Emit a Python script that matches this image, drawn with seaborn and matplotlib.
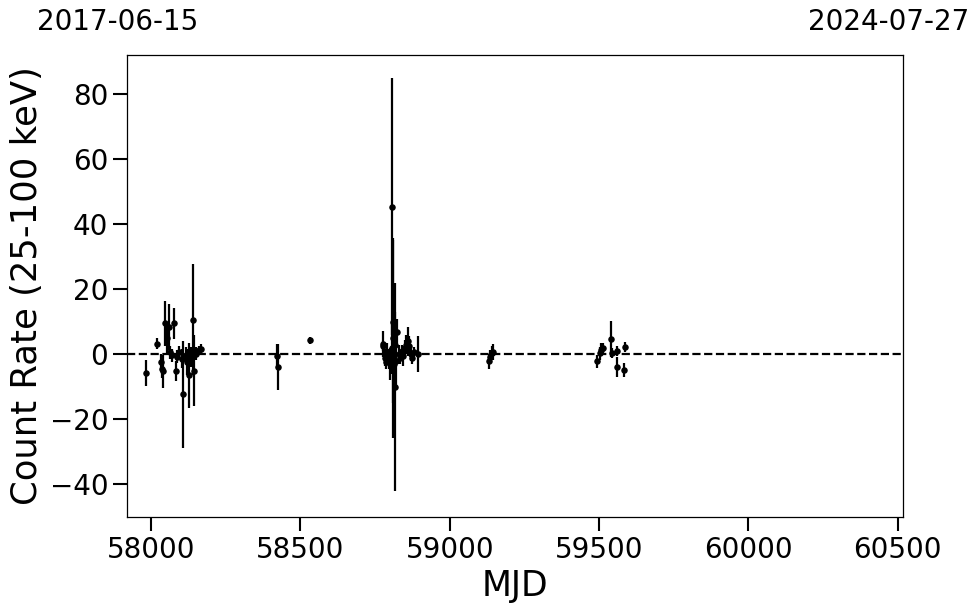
import numpy as np
import pandas as pd
import seaborn as sns
import matplotlib
matplotlib.use("Agg")
import matplotlib.pyplot as plt

# light curve points (MJD, count rate, 1-sigma error)
mjd = [57984, 58021, 58032, 58036, 58040, 58047, 58052, 58058, 58062, 58069,
       58077, 58083, 58088, 58094, 58103, 58107, 58116, 58120, 58125, 58133,
       58141, 58144, 58150, 58161, 58168,
       58423, 58425, 58532,
       58775, 58778, 58783, 58786, 58790, 58795, 58800, 58805, 58807, 58809,
       58811, 58813, 58815, 58817, 58820, 58823, 58830, 58835, 58840, 58845,
       58850, 58855, 58860, 58865, 58870, 58875, 58881, 58895,
       59130, 59135, 59140, 59146,
       59492, 59503, 59508, 59512, 59540, 59543, 59559, 59560, 59582, 59586]
rate = [-5.8, 3.3, -2.4, -4.4, -5.2, 9.5, 5.0, 8.4, 0.7, -0.3,
        9.5, -5.2, -0.8, 0.7, -1.3, -12.3, -0.3, -2.5, -6.5, -0.8,
        10.7, -5.0, 0.2, 1.2, 1.6,
        -0.5, -3.9, 4.3,
        2.5, 3.3, -1.0, -2.5, 0.5, -1.5, -3.0, 2.0, 45.4, 10.0,
        5.0, -3.0, -10.0, 3.0, -2.0, 7.0, 0.0, -1.0, 1.0, -0.5,
        2.0, 3.0, 4.0, 2.5, 0.0, -1.0, 0.6, 0.0,
        -2.2, -0.8, 0.5, 0.8,
        -2.1, 0.4, 1.4, 2.0, 4.8, 0.4, -3.9, 1.0, -4.9, 2.3]
err = [4.0, 1.7, 2.5, 3.0, 5.0, 7.0, 4.5, 7.0, 2.0, 2.0,
       4.8, 3.0, 2.0, 2.0, 3.0, 16.5, 2.5, 4.0, 10.0, 3.0,
       17.0, 11.0, 2.0, 1.5, 1.5,
       3.8, 7.0, 1.0,
       1.5, 4.0, 2.5, 2.0, 3.0, 3.0, 5.0, 8.0, 39.5, 25.0,
       30.7, 15.0, 32.0, 10.0, 8.0, 4.0, 3.0, 2.0, 2.0, 3.0,
       2.5, 3.0, 4.5, 3.0, 2.0, 2.0, 1.5, 5.5,
       2.4, 2.0, 2.0, 2.5,
       2.0, 2.0, 2.0, 1.5, 5.5, 1.5, 3.0, 1.5, 2.2, 1.5]

x_ticks = [58000, 58500, 59000, 59500, 60000, 60500]
y_ticks = [-40, -20, 0, 20, 40, 60, 80]
date_start = "2017-06-15"
date_end = "2024-07-27"

df = pd.DataFrame({"MJD": mjd, "rate": rate, "err": err})

sns.set_theme(style="ticks")
plt.rcParams["font.family"] = ["DejaVu Sans"]
plt.rcParams["text.color"] = "black"
plt.rcParams["axes.labelcolor"] = "black"
plt.rcParams["xtick.color"] = "black"
plt.rcParams["ytick.color"] = "black"

fig = plt.figure(figsize=(9.8, 6.13), dpi=100)
ax = fig.add_axes([0.1296, 0.1566, 0.7918, 0.7537])

ax.errorbar(df["MJD"], df["rate"], yerr=df["err"], fmt="none",
            ecolor="black", elinewidth=1.6, capsize=0, zorder=2)
sns.scatterplot(data=df, x="MJD", y="rate", ax=ax, color="black",
                s=22, edgecolor="black", linewidth=0, zorder=3, legend=False)
ax.axhline(0, color="black", ls="--", lw=1.6, zorder=1)

ax.set_xlim(57919, 60518)
ax.set_ylim(-50, 92)
ax.set_xticks(x_ticks)
ax.set_yticks(y_ticks)
ax.set_xlabel("MJD", fontsize=25)
ax.set_ylabel("Count Rate (25-100 keV)", fontsize=25.5)
ax.tick_params(labelsize=20, length=10, width=1.5, direction="out",
               colors="black")
for sp in ax.spines.values():
    sp.set_linewidth(0.9)
    sp.set_color("black")

ax.text(-0.012, 1.071, date_start, transform=ax.transAxes,
        ha="center", va="center", fontsize=20, color="black")
ax.text(0.982, 1.071, date_end, transform=ax.transAxes,
        ha="center", va="center", fontsize=20, color="black")

fig.savefig("out.png", dpi=100)
